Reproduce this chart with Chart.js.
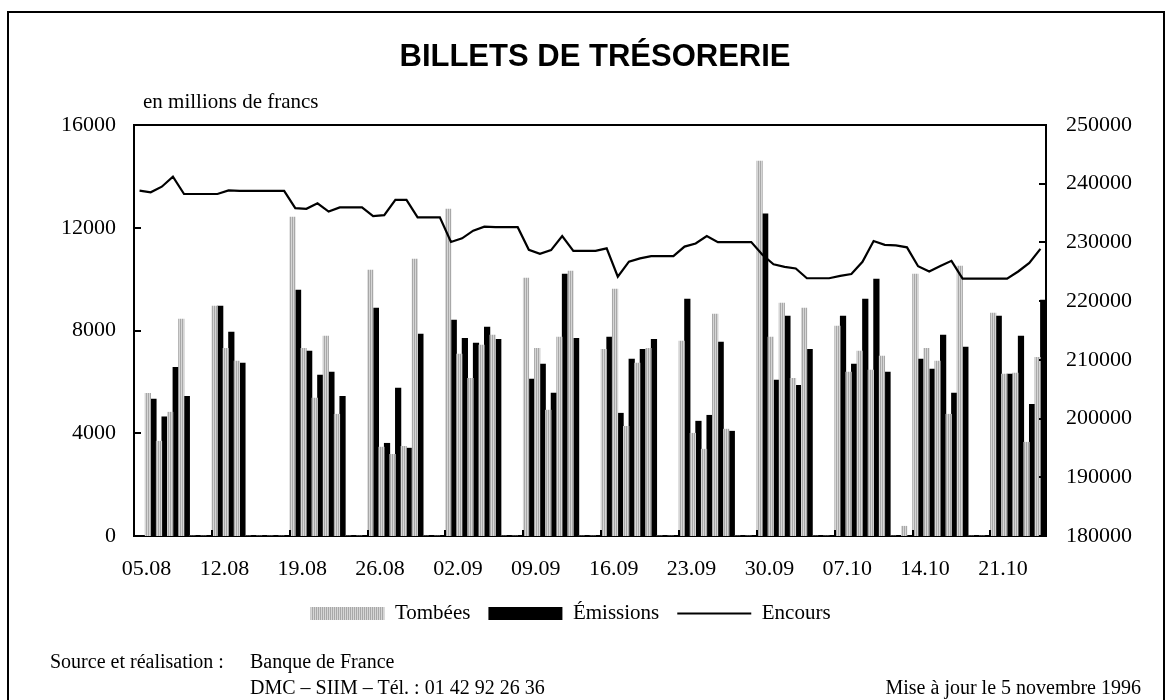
<!DOCTYPE html>
<html lang="fr">
<head>
<meta charset="utf-8">
<title>Billets de trésorerie</title>
<script src="https://cdn.jsdelivr.net/npm/chart.js@4.4.0/dist/chart.umd.min.js"></script>
<style>
  html, body { margin: 0; padding: 0; background: #fff; }
  #page { position: relative; width: 1171px; height: 700px; overflow: hidden; color: #000;
          font-family: "Liberation Serif", "Times New Roman", serif; }
  #frame { position: absolute; left: 7px; top: 11px; width: 1154px; height: 760px; border: 2px solid #000; }
  canvas { position: absolute; left: 0; top: 0; }
  .txt { position: absolute; white-space: nowrap; line-height: 1; }
  #title { left: 0; width: 1190px; top: 38px; text-align: center;
           font: bold 31px "Liberation Sans", Arial, sans-serif; }
  #unit { left: 143px; top: 91px; font-size: 21px; }
  .foot { font-size: 20px; }
</style>
</head>
<body>
<div id="page">
  <div id="frame"></div>
  <canvas id="chart" width="1171" height="700"></canvas>
  <div id="title" class="txt">BILLETS DE TRÉSORERIE</div>
  <div id="unit" class="txt">en millions de francs</div>
  <div class="txt foot" style="left:50px; top:651px;">Source et réalisation :</div>
  <div class="txt foot" style="left:250px; top:651px;">Banque de France</div>
  <div class="txt foot" style="left:250px; top:677px;">DMC – SIIM – Tél. : 01 42 92 26 36</div>
  <div class="txt foot" style="right:30px; top:677px;">Mise à jour le 5 novembre 1996</div>
</div>
<script>
// --- Data (one line per week, Mon..Sun) ---
const days = [
  '05.08','06.08','07.08','08.08','09.08','10.08','11.08',
  '12.08','13.08','14.08','15.08','16.08','17.08','18.08',
  '19.08','20.08','21.08','22.08','23.08','24.08','25.08',
  '26.08','27.08','28.08','29.08','30.08','31.08','01.09',
  '02.09','03.09','04.09','05.09','06.09','07.09','08.09',
  '09.09','10.09','11.09','12.09','13.09','14.09','15.09',
  '16.09','17.09','18.09','19.09','20.09','21.09','22.09',
  '23.09','24.09','25.09','26.09','27.09','28.09','29.09',
  '30.09','01.10','02.10','03.10','04.10','05.10','06.10',
  '07.10','08.10','09.10','10.10','11.10','12.10','13.10',
  '14.10','15.10','16.10','17.10','18.10','19.10','20.10',
  '21.10','22.10','23.10','24.10','25.10'
];
const tickLabels = ['05.08','12.08','19.08','26.08','02.09','09.09','16.09','23.09','30.09','07.10','14.10','21.10'];

const tombees = [
  0, 5550, 3690, 4820, 8440, 0, 0,
  8950, 7310, 6810, 0, 0, 0, 0,
  12420, 7310, 5370, 7780, 4740, 0, 0,
  10350, 3460, 3180, 3490, 10780, 0, 0,
  12730, 7080, 6140, 7430, 7820, 0, 0,
  10040, 7310, 4900, 7740, 10310, 0, 0,
  7270, 9610, 4270, 6730, 7310, 0, 0,
  7590, 4000, 3380, 8640, 4160, 0, 0,
  14600, 7740, 9070, 6140, 8870, 0, 0,
  8170, 6380, 7200, 6460, 7000, 0, 380,
  10200, 7310, 6810, 4740, 10510, 0, 0,
  8680, 6300, 6340, 3650, 6960
];
const emissions = [
  0, 5330, 4640, 6570, 5440, 0, 0,
  8950, 7940, 6730, 0, 0, 0, 0,
  9570, 7200, 6260, 6380, 5440, 0, 0,
  8870, 3610, 5760, 3420, 7860, 0, 0,
  8410, 7700, 7510, 8130, 7660, 0, 0,
  6110, 6690, 5560, 10200, 7700, 0, 0,
  7740, 4780, 6890, 7270, 7660, 0, 0,
  9220, 4470, 4700, 7550, 4080, 0, 0,
  12540, 6070, 8560, 5870, 7270, 0, 0,
  8560, 6690, 9220, 10000, 6380, 0, 0,
  6890, 6500, 7820, 5560, 7350, 0, 0,
  8560, 6300, 7780, 5130, 9180
];
const encours = [
  238810, 238530, 239490, 241200, 238250, 238250, 238250,
  238250, 238870, 238790, 238790, 238790, 238790, 238790,
  235850, 235720, 236660, 235250, 235960, 235960, 235960,
  234480, 234650, 237250, 237250, 234280, 234280, 234280,
  230080, 230690, 232000, 232690, 232600, 232600, 232600,
  228750, 228050, 228700, 231100, 228550, 228550, 228550,
  228990, 224160, 226730, 227290, 227670, 227670, 227670,
  229290, 229820, 231090, 230050, 230050, 230050, 230050,
  227900, 226270, 225840, 225570, 223900, 223900, 223900,
  224290, 224620, 226700, 230240, 229580, 229500, 229160,
  225950, 225050, 226000, 226870, 223850, 223850, 223850,
  223820, 223820, 225050, 226500, 228900
];

// --- Striped grey fill for "Tombées" ---
const canvas = document.getElementById('chart');
const ctx = canvas.getContext('2d');
const stripe = document.createElement('canvas');
stripe.width = 2; stripe.height = 1;
const sctx = stripe.getContext('2d');
sctx.fillStyle = '#a8a8a8'; sctx.fillRect(0, 0, 1, 1);
sctx.fillStyle = '#d6d6d6'; sctx.fillRect(1, 0, 1, 1);
const greyStripes = ctx.createPattern(stripe, 'repeat');

// --- Box on top + small inward tick marks ---
const axisMarks = {
  id: 'axisMarks',
  afterDraw(chart) {
    const { ctx, chartArea: a, scales } = chart;
    ctx.save();
    ctx.strokeStyle = '#000';
    ctx.lineWidth = 2;
    ctx.beginPath();
    ctx.moveTo(a.left - 1, a.top);
    ctx.lineTo(a.right + 1, a.top);
    scales.y.ticks.forEach(t => {
      const py = Math.round(scales.y.getPixelForValue(t.value));
      ctx.moveTo(a.left, py); ctx.lineTo(a.left + 7, py);
    });
    scales.y2.ticks.forEach(t => {
      const py = Math.round(scales.y2.getPixelForValue(t.value));
      ctx.moveTo(a.right - 7, py); ctx.lineTo(a.right, py);
    });
    days.forEach((d, i) => {
      if (i === 0 || !tickLabels.includes(d)) return;
      const px = Math.round((scales.x.getPixelForValue(i - 1) + scales.x.getPixelForValue(i)) / 2);
      ctx.moveTo(px, a.bottom); ctx.lineTo(px, a.bottom - 6);
    });
    ctx.stroke();
    ctx.restore();
  }
};

Chart.defaults.font.family = '"Liberation Serif", "Times New Roman", serif';
Chart.defaults.color = '#000';

new Chart(ctx, {
  type: 'bar',
  data: {
    labels: days,
    datasets: [
      { label: 'Tombées', data: tombees, backgroundColor: greyStripes, borderWidth: 0,
        barPercentage: 1, categoryPercentage: 1, yAxisID: 'y', order: 1 },
      { label: 'Émissions', data: emissions, backgroundColor: '#000', borderWidth: 0,
        barPercentage: 1, categoryPercentage: 1, yAxisID: 'y', order: 1 },
      { type: 'line', label: 'Encours', data: encours, borderColor: '#000', backgroundColor: '#000',
        borderWidth: 2.2, pointRadius: 0, tension: 0, yAxisID: 'y2', order: 0 }
    ]
  },
  options: {
    responsive: false,
    animation: false,
    devicePixelRatio: 1,
    layout: { padding: { left: 0, right: 30, top: 125, bottom: 66 } },
    plugins: {
      tooltip: { enabled: false },
      legend: {
        position: 'bottom',
        labels: {
          usePointStyle: true,
          pointStyleWidth: 74,
          boxHeight: 13,
          padding: 18,
          font: { size: 21 },
          color: '#000',
          sort: (a, b) => a.datasetIndex - b.datasetIndex,
          generateLabels(chart) {
            const items = Chart.defaults.plugins.legend.labels.generateLabels(chart);
            items.forEach(it => { it.pointStyle = it.datasetIndex === 2 ? 'line' : 'rect'; });
            return items;
          }
        }
      }
    },
    scales: {
      x: {
        offset: true,
        grid: { display: false, drawTicks: false },
        border: { display: true, color: '#000', width: 2 },
        ticks: {
          autoSkip: false, maxRotation: 0, padding: 20, labelOffset: 7,
          font: { size: 22 },
          callback: (v, i) => tickLabels.includes(days[i]) ? days[i] : ''
        },
        afterFit: s => { s.height = 49; }
      },
      y: {
        position: 'left', min: 0, max: 16000,
        grid: { display: false, drawTicks: false },
        border: { display: true, color: '#000', width: 2 },
        ticks: { stepSize: 4000, padding: 18, font: { size: 22 }, callback: v => String(v) },
        afterFit: s => { s.width = 134; }
      },
      y2: {
        position: 'right', min: 180000, max: 250000,
        grid: { display: false, drawTicks: false },
        border: { display: true, color: '#000', width: 2 },
        ticks: { stepSize: 10000, padding: 20, font: { size: 22 }, callback: v => String(v) },
        afterFit: s => { s.width = 95; }
      }
    }
  },
  plugins: [axisMarks]
});
</script>
</body>
</html>
